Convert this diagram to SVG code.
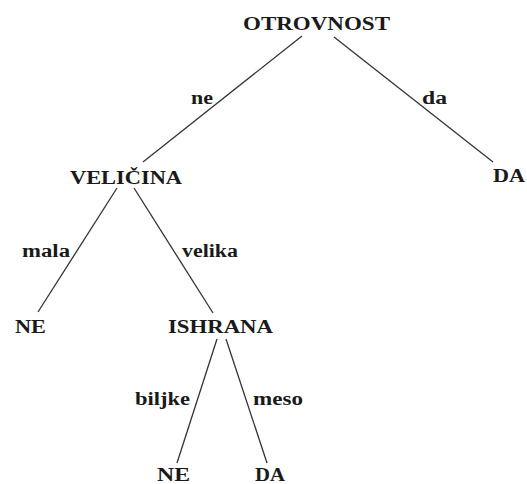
<svg xmlns="http://www.w3.org/2000/svg" width="527" height="484" viewBox="0 0 527 484">
<style>
text{font-family:"Liberation Serif","DejaVu Serif",serif;font-weight:bold;font-size:19px;fill:#1a1a1a}
.lbl{font-size:18px}
line{stroke:#333;stroke-width:1.3}
</style>
<rect width="527" height="484" fill="#fff"/>
<g id="connectors">
<line x1="302" y1="36" x2="143" y2="162"/>
<line x1="334" y1="37" x2="493" y2="162"/>
<line x1="117" y1="188" x2="38" y2="312"/>
<line x1="134" y1="188" x2="213" y2="313"/>
<line x1="217" y1="339" x2="177" y2="463"/>
<line x1="226" y1="339" x2="267" y2="463"/>
<text class="lbl" x="191" y="104" textLength="22" lengthAdjust="spacingAndGlyphs">ne</text>
<text class="lbl" x="422" y="104" textLength="25" lengthAdjust="spacingAndGlyphs">da</text>
<text class="lbl" x="22" y="257" textLength="48" lengthAdjust="spacingAndGlyphs">mala</text>
<text class="lbl" x="182" y="257" textLength="56" lengthAdjust="spacingAndGlyphs">velika</text>
<text class="lbl" x="135" y="405" textLength="55" lengthAdjust="spacingAndGlyphs">biljke</text>
<text class="lbl" x="253" y="405" textLength="50" lengthAdjust="spacingAndGlyphs">meso</text>
</g>
<g id="n-otrovnost"><text x="243" y="30" textLength="147" lengthAdjust="spacingAndGlyphs">OTROVNOST</text></g>
<g id="n-da1"><text x="493" y="182" textLength="32" lengthAdjust="spacingAndGlyphs">DA</text></g>
<g id="n-velicina"><text x="70" y="184" textLength="112" lengthAdjust="spacingAndGlyphs">VELIČINA</text></g>
<g id="n-ne1"><text x="15" y="333" textLength="31" lengthAdjust="spacingAndGlyphs">NE</text></g>
<g id="n-ishrana"><text x="168" y="333" textLength="105" lengthAdjust="spacingAndGlyphs">ISHRANA</text></g>
<g id="n-ne2"><text x="157" y="481" textLength="33" lengthAdjust="spacingAndGlyphs">NE</text></g>
<g id="n-da2"><text x="255" y="481" textLength="30" lengthAdjust="spacingAndGlyphs">DA</text></g>
</svg>
